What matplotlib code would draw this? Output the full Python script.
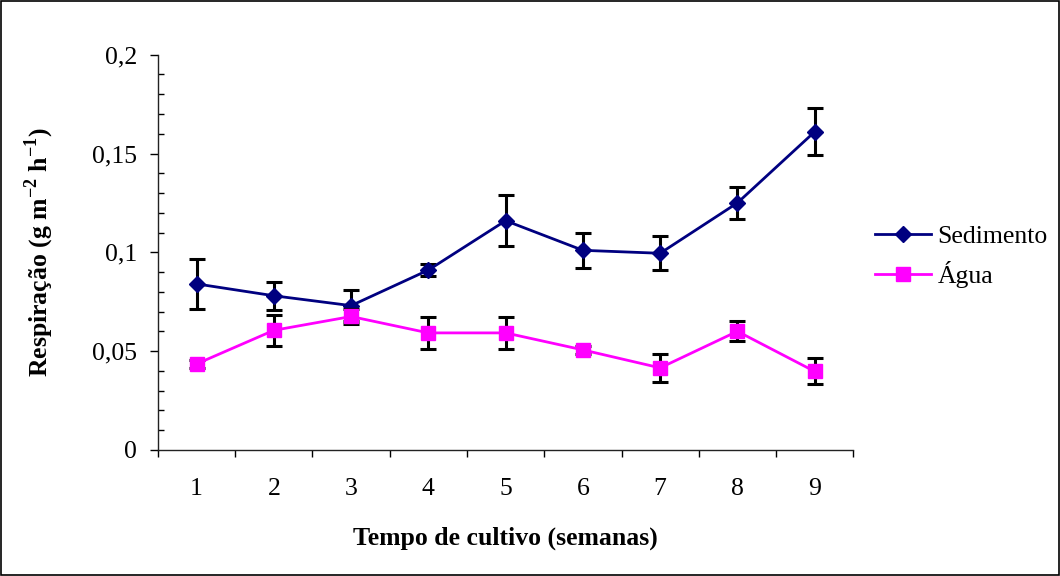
import matplotlib.pyplot as plt
from matplotlib.ticker import MultipleLocator, FixedLocator, FuncFormatter

plt.rcParams['font.family'] = ['Liberation Serif', 'DejaVu Serif']
plt.rcParams['mathtext.fontset'] = 'custom'
plt.rcParams['mathtext.rm'] = 'Liberation Serif'
plt.rcParams['mathtext.bf'] = 'Liberation Serif:bold'

# Data
semanas = [1, 2, 3, 4, 5, 6, 7, 8, 9]
sedimento = [0.084, 0.078, 0.073, 0.091, 0.116, 0.101, 0.0995, 0.125, 0.161]
sedimento_err = [0.0125, 0.007, 0.0078, 0.003, 0.013, 0.0087, 0.0087, 0.008, 0.012]
agua = [0.0435, 0.0605, 0.0675, 0.0592, 0.0592, 0.0506, 0.0415, 0.060, 0.0397]
agua_err = [0.002, 0.0077, 0.004, 0.008, 0.008, 0.002, 0.007, 0.005, 0.0066]

NAVY = '#000080'
MAGENTA = '#FF00FF'
FS = 18.5

fig = plt.figure(figsize=(10.6, 5.76), dpi=100)
ax = fig.add_axes([0.149, 0.219, 0.656, 0.686])

# frame around the whole figure
fig.patches.append(plt.Rectangle((0.001, 0.001), 0.998, 0.997, transform=fig.transFigure,
                                 fill=False, edgecolor='black', linewidth=1.2))

ax.errorbar(semanas, sedimento, yerr=sedimento_err, fmt='none', ecolor='black',
            elinewidth=2.2, capsize=5.5, capthick=2.2, zorder=2)
ax.plot(semanas, sedimento, color=NAVY, linewidth=2, marker='D', markersize=8,
        label='Sedimento', zorder=3)
ax.errorbar(semanas, agua, yerr=agua_err, fmt='none', ecolor='black',
            elinewidth=2.2, capsize=5.5, capthick=2.2, zorder=4)
ax.plot(semanas, agua, color=MAGENTA, linewidth=2, marker='s', markersize=10.5,
        label='Água', zorder=5)

ax.set_xlim(0.5, 9.5)
ax.set_ylim(0, 0.2)

ax.spines['top'].set_visible(False)
ax.spines['right'].set_visible(False)
for s in ('left', 'bottom'):
    ax.spines[s].set_color('#222222')
    ax.spines[s].set_linewidth(1.0)

ax.yaxis.set_major_locator(MultipleLocator(0.05))
ax.yaxis.set_minor_locator(MultipleLocator(0.01))
ax.yaxis.set_major_formatter(FuncFormatter(lambda v, p: ('%g' % round(v, 3)).replace('.', ',')))
ax.tick_params(axis='y', which='major', direction='out', length=6, width=1.0, labelsize=FS, pad=9)
ax.tick_params(axis='y', which='minor', direction='in', length=4, width=1.0)

ax.xaxis.set_major_locator(FixedLocator(semanas))
ax.xaxis.set_minor_locator(FixedLocator([x - 0.5 for x in semanas] + [9.5]))
ax.tick_params(axis='x', which='major', length=0, labelsize=FS, pad=20)
ax.tick_params(axis='x', which='minor', direction='out', length=5, width=1.0)

ax.set_xlabel('Tempo de cultivo (semanas)', fontsize=FS, fontweight='bold')
ax.set_ylabel(r'Respiração (g m$^{\mathbf{-2}}$ h$^{\mathbf{-1}}$)', fontsize=FS,
              fontweight='bold')
ax.xaxis.set_label_coords(0.4993, -0.195)
ax.yaxis.set_label_coords(-0.147, 0.5)

ax.legend(loc='center left', bbox_to_anchor=(1.017, 0.49), frameon=False, fontsize=FS,
          handlelength=2.15, handletextpad=0.27, labelspacing=0.5, borderaxespad=0)

fig.savefig('out.png', dpi=100)
